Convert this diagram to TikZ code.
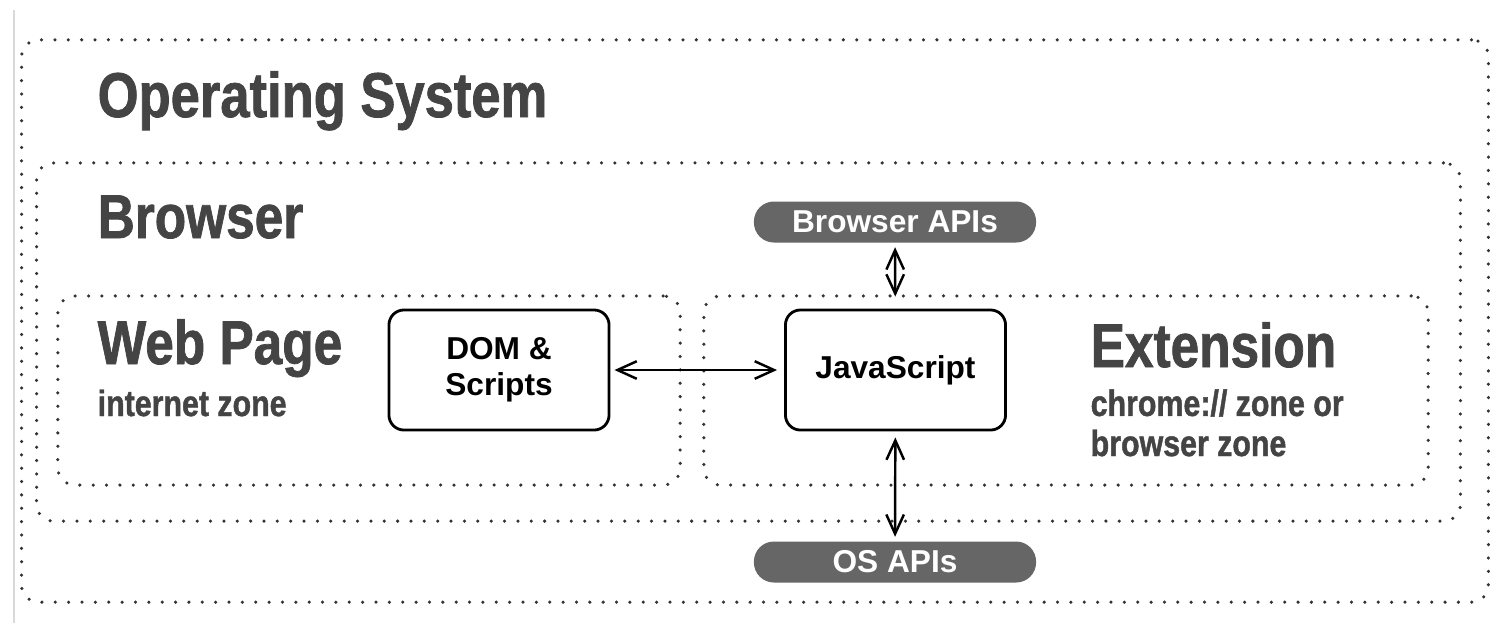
\documentclass[tikz,border=0pt]{standalone}
\usepackage{fontspec}
\setmainfont{Liberation Sans}
\newfontfamily\condfont{Liberation Sans Bold}[FakeStretch=0.83, FakeBold=1.2]
\usetikzlibrary{arrows.meta}
\usetikzlibrary{positioning}
\usepackage{xcolor}
\definecolor{labelgray}{HTML}{444444}
\definecolor{pillgray}{HTML}{666666}
\definecolor{dotgray}{HTML}{333333}

\begin{document}
\begin{tikzpicture}[x=0.01cm, y=-0.01cm,
		zone/.style={draw=dotgray, line width=1pt, line cap=round, dash pattern=on 0pt off 3.8pt, rounded corners=0.17cm, inner sep=0pt},
		block/.style={draw, line width=0.8pt, rounded corners=0.15cm, inner sep=0pt, minimum width=2.2cm, minimum height=1.2cm, align=center, font=\bfseries\fontsize{9}{10.2}\selectfont},
		api/.style={fill=pillgray, rounded corners=0.2cm, inner sep=0pt, minimum width=2.82cm, minimum height=0.41cm, text=white, font=\bfseries\fontsize{9}{10}\selectfont},
		title/.style={anchor=base west, inner sep=0pt, text=labelgray, font=\condfont\fontsize{17.6}{19}\selectfont},
		subtitle/.style={anchor=base west, inner sep=0pt, text=labelgray, align=left, font=\condfont\fontsize{10.4}{11.4}\selectfont},
		link/.style={{Straight Barb[length=5.5pt,width=5pt]}-{Straight Barb[length=5.5pt,width=5pt]}, line width=0.7pt}]
	\useasboundingbox (0,0) rectangle (1490,623);
	% page edge
	\draw[gray!30, line width=0.6pt] (14,10) -- (14,623);
	% nested zones
	\node[zone, minimum width=14.66cm, minimum height=5.62cm] (os) at (755,321) {};
	\node[zone, minimum width=14.23cm, minimum height=3.58cm] (browser) at (748.5,342) {};
	\node[zone, minimum width=6.22cm, minimum height=1.89cm] (page) at (369,390.5) {};
	\node[zone, minimum width=7.24cm, minimum height=1.89cm] (ext) at (1066,390.5) {};
	% zone titles
	\node[title, font=\condfont\fontsize{18}{20}\selectfont] (ostitle) at (97,117) {Operating System};
	\node[title] (browsertitle) at (97,238) {Browser};
	\node[title] (pagetitle) at (97,364) {Web Page};
	\node[subtitle] (pagezone) at (97,416) {internet zone};
	\node[title] (exttitle) at (1090,367) {Extension};
	% base of a two-line node sits on its last line
	\node[subtitle] (extzone) at (1090,456) {chrome:// zone or\\browser zone};
	% code blocks
	\node[block] (dom) at (499,370) {DOM \&\\Scripts};
	\node[block] (js) at (895.5,370) {JavaScript};
	% APIs
	\node[api] (bapi) at (895,222) {Browser APIs};
	\node[api] (osapi) at (895,562) {OS APIs};
	% links
	\draw[link, shorten <=0.04cm, shorten >=0.07cm] (dom) -- (js);
	\draw[link, shorten <=0.04cm, shorten >=0.12cm] (bapi) -- (js);
	\draw[link, shorten <=0.06cm, shorten >=0.04cm] (js) -- (osapi);
\end{tikzpicture}
\end{document}
